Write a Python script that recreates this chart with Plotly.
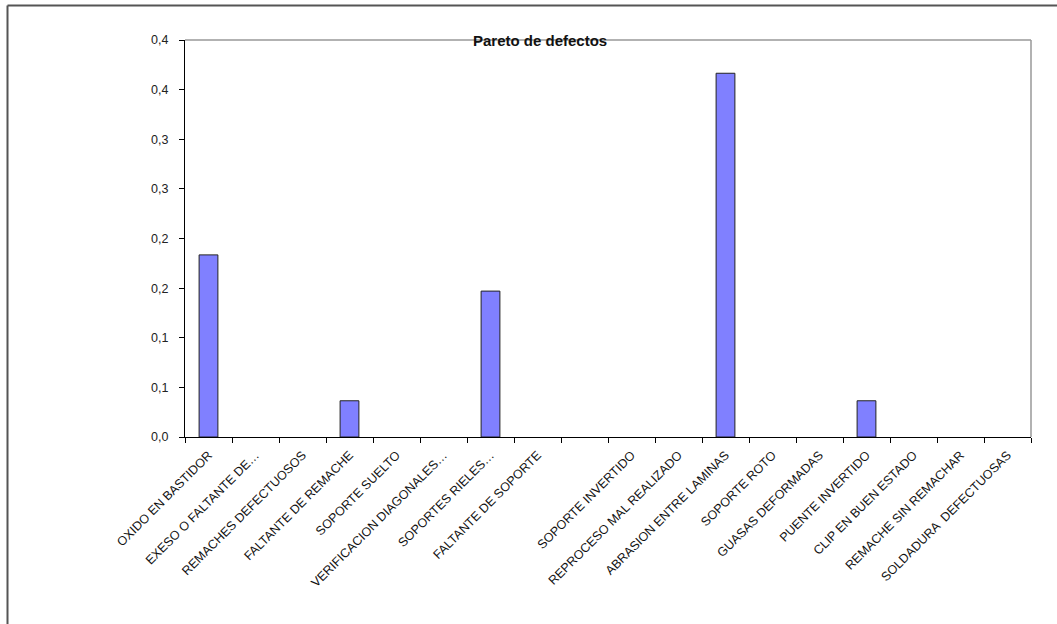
import plotly.graph_objects as go

categories = [
    "OXIDO EN BASTIDOR", "EXESO O FALTANTE DE…", "REMACHES DEFECTUOSOS",
    "FALTANTE DE REMACHE", "SOPORTE SUELTO", "VERIFICACION DIAGONALES…",
    "SOPORTES RIELES…", "FALTANTE DE SOPORTE", " ", "SOPORTE INVERTIDO",
    "REPROCESO MAL REALIZADO", "ABRASION ENTRE LAMINAS", "SOPORTE ROTO",
    "GUASAS DEFORMADAS", "PUENTE INVERTIDO", "CLIP EN BUEN ESTADO",
    "REMACHE SIN REMACHAR", "SOLDADURA  DEFECTUOSAS",
]
values = [0.1835, 0, 0, 0.0365, 0, 0, 0.147, 0, 0, 0, 0, 0.3665, 0, 0, 0.0365, 0, 0, 0]
ytick_vals = [0.0, 0.05, 0.10, 0.15, 0.20, 0.25, 0.30, 0.35, 0.40]
ytick_text = ["0,0", "0,1", "0,1", "0,2", "0,2", "0,3", "0,3", "0,4", "0,4"]

W, H = 1057, 624
L, R, T, B = 185, 1031, 40, 437

outline_widths = [1 if v > 0 else 0 for v in values]

fig = go.Figure(go.Bar(
    x=categories, y=values,
    marker=dict(color="#8080FF", line=dict(color="#222222", width=outline_widths)),
    width=0.4,
))

def px_x(p):
    return (p - L) / (R - L)

def px_y(p):
    return (B - p) / (B - T)

fig.update_layout(
    width=W, height=H,
    margin=dict(l=L, r=W - R, t=T, b=H - B),
    paper_bgcolor="white", plot_bgcolor="white",
    showlegend=False,
    font=dict(family="Liberation Sans, Arial, sans-serif", color="#111111"),
    xaxis=dict(
        type="category", tickangle=-45, tickfont=dict(size=12.5, color="#111111"),
        showline=True, linecolor="#000000", linewidth=1,
        ticks="outside", ticklen=5, tickcolor="#000000",
        tickson="boundaries", showgrid=False, mirror=False,
        ticklabelstandoff=5,
        range=[-0.5, len(categories) - 0.5],
    ),
    yaxis=dict(
        range=[0, 0.4], tickvals=ytick_vals, ticktext=ytick_text,
        tickfont=dict(size=12.5, color="#222222"),
        showline=True, linecolor="#000000", linewidth=1,
        ticks="outside", ticklen=5, tickcolor="#000000",
        ticklabelstandoff=8,
        showgrid=False, zeroline=False,
    ),
    shapes=[
        dict(type="line", xref="paper", yref="paper", x0=0, x1=1, y0=1, y1=1,
             line=dict(color="#999999", width=1.5)),
        dict(type="line", xref="paper", yref="paper", x0=1, x1=1, y0=0, y1=1,
             line=dict(color="#999999", width=1.5)),
        dict(type="line", xref="paper", yref="paper",
             x0=px_x(7.5), x1=px_x(1057), y0=px_y(5.5), y1=px_y(5.5),
             line=dict(color="#555555", width=2)),
        dict(type="line", xref="paper", yref="paper",
             x0=px_x(7.5), x1=px_x(7.5), y0=px_y(5.5), y1=px_y(624),
             line=dict(color="#555555", width=2)),
    ],
    annotations=[
        dict(text="<b>Pareto de defectos</b>", xref="paper", yref="paper",
             x=px_x(540), y=px_y(40), xanchor="center", yanchor="middle",
             showarrow=False, font=dict(size=15, color="#111111")),
    ],
)

fig.write_html("out.html")
